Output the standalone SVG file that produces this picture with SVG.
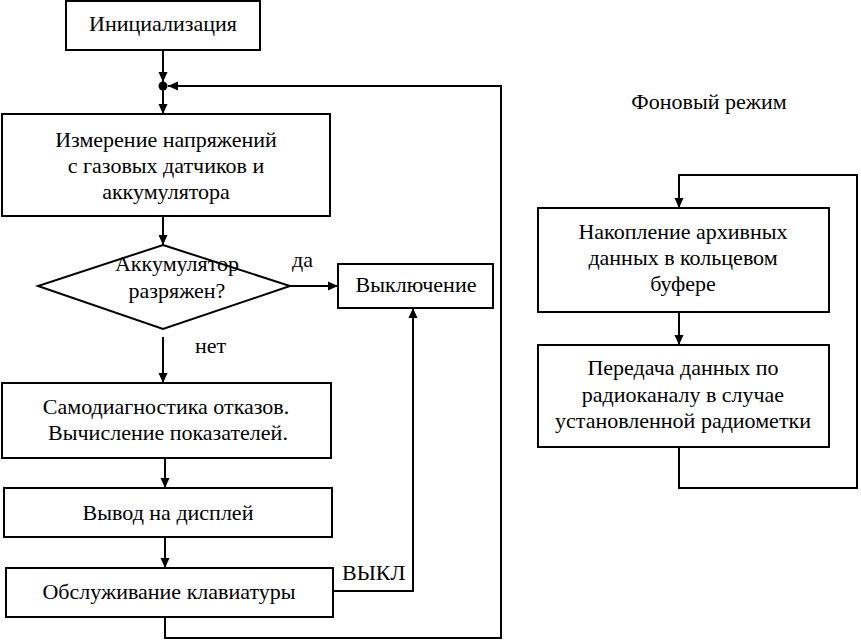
<svg xmlns="http://www.w3.org/2000/svg" width="861" height="641" viewBox="0 0 861 641">
<style>
.box{fill:#fff;stroke:#000;stroke-width:2}
.t{font-family:"Liberation Serif","Times New Roman",serif;font-size:22px;fill:#000;text-anchor:middle}
.tl{font-family:"Liberation Serif","Times New Roman",serif;font-size:22px;fill:#000}
.c{fill:none;stroke:#000;stroke-width:2}
</style>
<defs>
<marker id="ah" markerUnits="userSpaceOnUse" markerWidth="10" markerHeight="10" refX="10" refY="5" orient="auto">
<path d="M0,0.5 L10,5 L0,9.5 z" fill="#000"/>
</marker>
</defs>
<rect width="861" height="641" fill="#fff"/>
<g id="connectors">
<line class="c" x1="163" y1="50" x2="163" y2="82" marker-end="url(#ah)"/>
<circle cx="163" cy="86" r="4.5" fill="#000"/>
<line class="c" x1="163" y1="90" x2="163" y2="114" marker-end="url(#ah)"/>
<polyline class="c" points="165,617 165,638 501,638 501,86 168,86" marker-end="url(#ah)"/>
<line class="c" x1="163" y1="216" x2="163" y2="245" marker-end="url(#ah)"/>
<line class="c" x1="290" y1="286" x2="338" y2="286" marker-end="url(#ah)"/>
<line class="c" x1="163" y1="337" x2="163" y2="383" marker-end="url(#ah)"/>
<line class="c" x1="165" y1="458" x2="165" y2="488" marker-end="url(#ah)"/>
<line class="c" x1="165" y1="537" x2="165" y2="568" marker-end="url(#ah)"/>
<polyline class="c" points="333,591 413,591 413,308" marker-end="url(#ah)"/>
<line class="c" x1="679" y1="312" x2="679" y2="345" marker-end="url(#ah)"/>
<polyline class="c" points="679,447 679,488 857,488 857,175 679,175 679,208" marker-end="url(#ah)"/>
</g>
<g id="init">
<rect class="box" x="66" y="1" width="194" height="49"/>
<text class="t" x="163" y="31">Инициализация</text>
</g>
<g id="measure">
<rect class="box" x="2" y="114" width="328" height="102"/>
<text class="t" x="166" y="147">Измерение напряжений</text>
<text class="t" x="166" y="173">с газовых датчиков и</text>
<text class="t" x="166" y="199">аккумулятора</text>
</g>
<g id="decision">
<polygon class="box" points="163,245 290,286 163,329 38,286"/>
<text class="t" x="177" y="271">Аккумулятор</text>
<text class="t" x="177" y="298">разряжен?</text>
<text class="tl" x="292" y="267">да</text>
<text class="tl" x="195" y="353">нет</text>
</g>
<g id="shutdown">
<rect class="box" x="338" y="264" width="155" height="44"/>
<text class="t" x="416" y="292">Выключение</text>
</g>
<g id="diag">
<rect class="box" x="2" y="383" width="329" height="75"/>
<text class="t" x="166" y="414">Самодиагностика отказов.</text>
<text class="t" x="168" y="440">Вычисление показателей.</text>
</g>
<g id="display">
<rect class="box" x="4" y="488" width="328" height="49"/>
<text class="t" x="168" y="520">Вывод на дисплей</text>
</g>
<g id="keyboard">
<rect class="box" x="6" y="568" width="327" height="49"/>
<text class="t" x="169" y="599">Обслуживание клавиатуры</text>
<text class="tl" x="342" y="580">ВЫКЛ</text>
</g>
<g id="bg-title">
<text class="t" x="709" y="109">Фоновый режим</text>
</g>
<g id="archive">
<rect class="box" x="538" y="208" width="291" height="104"/>
<text class="t" x="683" y="239">Накопление архивных</text>
<text class="t" x="683" y="265">данных в кольцевом</text>
<text class="t" x="683" y="291">буфере</text>
</g>
<g id="transmit">
<rect class="box" x="538" y="345" width="291" height="102"/>
<text class="t" x="683" y="375">Передача данных по</text>
<text class="t" x="683" y="402">радиоканалу в случае</text>
<text class="t" x="683" y="428">установленной радиометки</text>
</g>
</svg>
